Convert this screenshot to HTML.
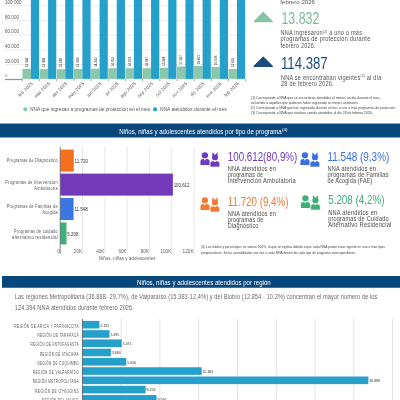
<!DOCTYPE html>
<html><head><meta charset="utf-8"><style>
html,body{margin:0;padding:0;background:#fff;width:400px;height:400px;overflow:hidden}
svg{display:block;font-family:"Liberation Sans", sans-serif;will-change:transform}
</style></head><body>
<svg width="400" height="400" viewBox="0 0 400 400">
<rect width="400" height="400" fill="#fff"/>
<line x1="5" y1="64.5" x2="246" y2="64.5" stroke="#dedede" stroke-width="0.6"/>
<line x1="5" y1="49.800000000000004" x2="246" y2="49.800000000000004" stroke="#dedede" stroke-width="0.6"/>
<line x1="5" y1="35.10000000000001" x2="246" y2="35.10000000000001" stroke="#dedede" stroke-width="0.6"/>
<line x1="5" y1="20.400000000000006" x2="246" y2="20.400000000000006" stroke="#dedede" stroke-width="0.6"/>
<line x1="5" y1="5.700000000000003" x2="246" y2="5.700000000000003" stroke="#dedede" stroke-width="0.6"/>
<text x="5" y="76.7" font-size="4.3" fill="#777">0</text>
<text x="5" y="62.6" font-size="4.9" fill="#555" textLength="14" lengthAdjust="spacingAndGlyphs">20.000</text>
<text x="5" y="47.900000000000006" font-size="4.9" fill="#555" textLength="14" lengthAdjust="spacingAndGlyphs">40.000</text>
<text x="5" y="33.20000000000001" font-size="4.9" fill="#555" textLength="14" lengthAdjust="spacingAndGlyphs">60.000</text>
<text x="5" y="18.500000000000007" font-size="4.9" fill="#555" textLength="14" lengthAdjust="spacingAndGlyphs">80.000</text>
<text x="5" y="3.800000000000003" font-size="4.9" fill="#555" textLength="16.5" lengthAdjust="spacingAndGlyphs">100.000</text>
<rect x="22.4" y="68.95" width="8.5" height="10.25" fill="#8dc7ab"/>
<rect x="30.9" y="-5" width="8.2" height="84.2" fill="#24a0ca"/>
<text transform="translate(27.90,67.15) rotate(-90)" font-size="3.7" fill="#222" textLength="9.5" lengthAdjust="spacingAndGlyphs">13.944</text>
<text transform="translate(33.10,83.9) rotate(-45)" font-size="4.6" fill="#555" text-anchor="end" letter-spacing="0.1">feb 2025</text>
<rect x="39.57" y="68.98" width="8.5" height="10.22" fill="#8dc7ab"/>
<rect x="48.07" y="-5" width="8.2" height="84.2" fill="#24a0ca"/>
<text transform="translate(45.07,67.18) rotate(-90)" font-size="3.7" fill="#222" textLength="9.5" lengthAdjust="spacingAndGlyphs">13.908</text>
<text transform="translate(50.27,83.9) rotate(-45)" font-size="4.6" fill="#555" text-anchor="end" letter-spacing="0.1">mar 2025</text>
<rect x="56.74" y="69.21" width="8.5" height="9.99" fill="#8dc7ab"/>
<rect x="65.24" y="-5" width="8.2" height="84.2" fill="#24a0ca"/>
<text transform="translate(62.24,67.41) rotate(-90)" font-size="3.7" fill="#222" textLength="9.5" lengthAdjust="spacingAndGlyphs">13.586</text>
<text transform="translate(67.44,83.9) rotate(-45)" font-size="4.6" fill="#555" text-anchor="end" letter-spacing="0.1">abr 2025</text>
<rect x="73.91" y="68.92" width="8.5" height="10.28" fill="#8dc7ab"/>
<rect x="82.41" y="-5" width="8.2" height="84.2" fill="#24a0ca"/>
<text transform="translate(79.41,67.12) rotate(-90)" font-size="3.7" fill="#222" textLength="9.5" lengthAdjust="spacingAndGlyphs">13.985</text>
<text transform="translate(84.61,83.9) rotate(-45)" font-size="4.6" fill="#555" text-anchor="end" letter-spacing="0.1">may 2025</text>
<rect x="91.08" y="68.66" width="8.5" height="10.54" fill="#8dc7ab"/>
<rect x="99.58" y="-5" width="8.2" height="84.2" fill="#24a0ca"/>
<text transform="translate(96.58,66.86) rotate(-90)" font-size="3.7" fill="#222" textLength="9.5" lengthAdjust="spacingAndGlyphs">14.342</text>
<text transform="translate(101.78,83.9) rotate(-45)" font-size="4.6" fill="#555" text-anchor="end" letter-spacing="0.1">jun 2025</text>
<rect x="108.25" y="68.24" width="8.5" height="10.96" fill="#8dc7ab"/>
<rect x="116.75" y="-5" width="8.2" height="84.2" fill="#24a0ca"/>
<text transform="translate(113.75,66.44) rotate(-90)" font-size="3.7" fill="#222" textLength="9.5" lengthAdjust="spacingAndGlyphs">14.913</text>
<text transform="translate(118.95,83.9) rotate(-45)" font-size="4.6" fill="#555" text-anchor="end" letter-spacing="0.1">jul 2025</text>
<rect x="125.42" y="68.19" width="8.5" height="11.01" fill="#8dc7ab"/>
<rect x="133.92" y="-5" width="8.2" height="84.2" fill="#24a0ca"/>
<text transform="translate(130.92,66.39) rotate(-90)" font-size="3.7" fill="#222" textLength="9.5" lengthAdjust="spacingAndGlyphs">14.974</text>
<text transform="translate(136.12,83.9) rotate(-45)" font-size="4.6" fill="#555" text-anchor="end" letter-spacing="0.1">ago 2025</text>
<rect x="142.59" y="68.21" width="8.5" height="10.99" fill="#8dc7ab"/>
<rect x="151.09" y="-5" width="8.2" height="84.2" fill="#24a0ca"/>
<text transform="translate(148.09,66.41) rotate(-90)" font-size="3.7" fill="#222" textLength="9.5" lengthAdjust="spacingAndGlyphs">14.947</text>
<text transform="translate(153.29,83.9) rotate(-45)" font-size="4.6" fill="#555" text-anchor="end" letter-spacing="0.1">sep 2025</text>
<rect x="159.76" y="67.8" width="8.5" height="11.4" fill="#8dc7ab"/>
<rect x="168.26" y="-5" width="8.2" height="84.2" fill="#24a0ca"/>
<text transform="translate(165.26,66.00) rotate(-90)" font-size="3.7" fill="#222" textLength="9.5" lengthAdjust="spacingAndGlyphs">15.504</text>
<text transform="translate(170.46,83.9) rotate(-45)" font-size="4.6" fill="#555" text-anchor="end" letter-spacing="0.1">oct 2025</text>
<rect x="176.93" y="66.44" width="8.5" height="12.76" fill="#8dc7ab"/>
<rect x="185.43" y="-5" width="8.2" height="84.2" fill="#24a0ca"/>
<text transform="translate(182.43,64.64) rotate(-90)" font-size="3.7" fill="#222" textLength="9.5" lengthAdjust="spacingAndGlyphs">17.367</text>
<text transform="translate(187.63,83.9) rotate(-45)" font-size="4.6" fill="#555" text-anchor="end" letter-spacing="0.1">nov 2025</text>
<rect x="194.1" y="65.95" width="8.5" height="13.25" fill="#8dc7ab"/>
<rect x="202.6" y="-5" width="8.2" height="84.2" fill="#24a0ca"/>
<text transform="translate(199.60,64.15) rotate(-90)" font-size="3.7" fill="#222" textLength="9.5" lengthAdjust="spacingAndGlyphs">18.027</text>
<text transform="translate(204.80,83.9) rotate(-45)" font-size="4.6" fill="#555" text-anchor="end" letter-spacing="0.1">dic 2025</text>
<rect x="211.27" y="66.93" width="8.5" height="12.27" fill="#8dc7ab"/>
<rect x="219.77" y="-5" width="8.2" height="84.2" fill="#24a0ca"/>
<text transform="translate(216.77,65.13) rotate(-90)" font-size="3.7" fill="#222" textLength="9.5" lengthAdjust="spacingAndGlyphs">16.696</text>
<text transform="translate(221.97,83.9) rotate(-45)" font-size="4.6" fill="#555" text-anchor="end" letter-spacing="0.1">ene 2026</text>
<rect x="228.44" y="69.03" width="8.5" height="10.17" fill="#8dc7ab"/>
<rect x="236.94" y="-5" width="8.2" height="84.2" fill="#24a0ca"/>
<text transform="translate(233.94,67.23) rotate(-90)" font-size="3.7" fill="#222" textLength="9.5" lengthAdjust="spacingAndGlyphs">13.832</text>
<text transform="translate(239.14,83.9) rotate(-45)" font-size="4.6" fill="#555" text-anchor="end" letter-spacing="0.1">feb 2026</text>
<line x1="5" y1="79.5" x2="22.4" y2="79.5" stroke="#8a97a2" stroke-width="1.3"/>
<line x1="22.4" y1="79.5" x2="246" y2="79.5" stroke="#fff" stroke-opacity="0.5" stroke-width="1.3"/>
<line x1="22.4" y1="79.2" x2="22.4" y2="81.2" stroke="#666" stroke-width="0.6"/>
<line x1="39.57" y1="79.2" x2="39.57" y2="81.2" stroke="#666" stroke-width="0.6"/>
<line x1="56.74" y1="79.2" x2="56.74" y2="81.2" stroke="#666" stroke-width="0.6"/>
<line x1="73.91" y1="79.2" x2="73.91" y2="81.2" stroke="#666" stroke-width="0.6"/>
<line x1="91.08" y1="79.2" x2="91.08" y2="81.2" stroke="#666" stroke-width="0.6"/>
<line x1="108.25" y1="79.2" x2="108.25" y2="81.2" stroke="#666" stroke-width="0.6"/>
<line x1="125.42" y1="79.2" x2="125.42" y2="81.2" stroke="#666" stroke-width="0.6"/>
<line x1="142.59" y1="79.2" x2="142.59" y2="81.2" stroke="#666" stroke-width="0.6"/>
<line x1="159.76" y1="79.2" x2="159.76" y2="81.2" stroke="#666" stroke-width="0.6"/>
<line x1="176.93" y1="79.2" x2="176.93" y2="81.2" stroke="#666" stroke-width="0.6"/>
<line x1="194.1" y1="79.2" x2="194.1" y2="81.2" stroke="#666" stroke-width="0.6"/>
<line x1="211.27" y1="79.2" x2="211.27" y2="81.2" stroke="#666" stroke-width="0.6"/>
<line x1="228.44" y1="79.2" x2="228.44" y2="81.2" stroke="#666" stroke-width="0.6"/>
<line x1="245.61" y1="79.2" x2="245.61" y2="81.2" stroke="#666" stroke-width="0.6"/>
<circle cx="25.2" cy="109.3" r="2.1" fill="#8dc7ab"/>
<text x="30" y="110.9" font-size="5.8" fill="#555" textLength="120.2" lengthAdjust="spacingAndGlyphs">NNA que ingresan a programas de protección en el mes</text>
<circle cx="155.1" cy="109.3" r="2.1" fill="#24a0ca"/>
<text x="160" y="110.9" font-size="5.8" fill="#555" textLength="66.6" lengthAdjust="spacingAndGlyphs">NNA atendidos durante el mes</text>
<text x="280.3" y="3.7" font-size="6.2" fill="#555" textLength="34.7" lengthAdjust="spacingAndGlyphs">febrero 2026</text>
<path d="M263.2 12.5 L254.2 21.7 L272.3 21.7 Z" fill="#88c2a5" stroke="#88c2a5" stroke-width="1.3" stroke-linejoin="round"/>
<text x="281.5" y="23.6" font-size="16.3" fill="#7db99c" textLength="37.8" lengthAdjust="spacingAndGlyphs">13.832</text>
<text x="280.5" y="35.3" font-size="6.6" fill="#555" letter-spacing="0.25" textLength="81.7" lengthAdjust="spacingAndGlyphs">NNA ingresaron<tspan font-size="3.8" dy="-2.4">(2)</tspan><tspan dy="2.4"> a uno o más</tspan></text>
<text x="280.5" y="41.4" font-size="6.6" fill="#555" letter-spacing="0.25" textLength="90" lengthAdjust="spacingAndGlyphs">programas de protección durante</text>
<text x="280.5" y="47.5" font-size="6.6" fill="#555" letter-spacing="0.25" textLength="35.2" lengthAdjust="spacingAndGlyphs">febrero 2026.</text>
<path d="M263.2 57.2 L254.2 66.3 L272.3 66.3 Z" fill="#1b4b7a" stroke="#1b4b7a" stroke-width="1.3" stroke-linejoin="round"/>
<text x="281.0" y="68.9" font-size="17.2" fill="#1b4b7a" textLength="46.7" lengthAdjust="spacingAndGlyphs">114.387</text>
<text x="281" y="79.5" font-size="6.6" fill="#555" letter-spacing="0.25" textLength="100.6" lengthAdjust="spacingAndGlyphs">NNA se encontraban vigentes<tspan font-size="3.8" dy="-2.4">(3)</tspan><tspan dy="2.4"> al día</tspan></text>
<text x="281" y="85.9" font-size="6.6" fill="#555" letter-spacing="0.25" textLength="52.8" lengthAdjust="spacingAndGlyphs">28 de febrero 2026.</text>
<text x="251" y="99.0" font-size="3.7" fill="#444" textLength="129.5" lengthAdjust="spacingAndGlyphs">(1) Corresponde a NNA que se encuentran atendidos al menos un día durante el mes,</text>
<text x="251" y="103.85" font-size="3.7" fill="#444" textLength="107.75" lengthAdjust="spacingAndGlyphs">incluendo a aquellos que pudieron haber ingresado en meses anteriores.</text>
<text x="251" y="108.7" font-size="3.7" fill="#444" textLength="145.25" lengthAdjust="spacingAndGlyphs">(2) Corresponde a NNA que han ingresado durante el mes a uno o más programas de protección.</text>
<text x="251" y="113.55" font-size="3.7" fill="#444" textLength="121.5" lengthAdjust="spacingAndGlyphs">(3) Corresponde a NNA que estaban siendo atendidos al día 28 de febrero 2026.</text>
<rect x="0" y="123.5" width="400" height="14" fill="#08477c"/>
<text x="119.2" y="134.4" font-size="7.6" fill="#fff" textLength="162.5" lengthAdjust="spacingAndGlyphs">Niños, niñas y adolescentes atendidos por tipo de programa</text>
<text x="282" y="130.8" font-size="3.6" fill="#fff" textLength="5.5" lengthAdjust="spacingAndGlyphs">(4)</text>
<line x1="82.5" y1="147" x2="82.5" y2="254" stroke="#d6d6d6" stroke-width="0.6"/>
<line x1="104.8" y1="147" x2="104.8" y2="254" stroke="#d6d6d6" stroke-width="0.6"/>
<line x1="127.1" y1="147" x2="127.1" y2="254" stroke="#d6d6d6" stroke-width="0.6"/>
<line x1="149.4" y1="147" x2="149.4" y2="254" stroke="#d6d6d6" stroke-width="0.6"/>
<line x1="171.7" y1="147" x2="171.7" y2="254" stroke="#d6d6d6" stroke-width="0.6"/>
<line x1="194.0" y1="147" x2="194.0" y2="254" stroke="#d6d6d6" stroke-width="0.6"/>
<rect x="60.2" y="149.6" width="13.57" height="22" fill="#f66f1f"/>
<text x="74.57" y="162.9" font-size="4.6" fill="#333" textLength="13.5" lengthAdjust="spacingAndGlyphs">11.720</text>
<rect x="60.2" y="173.6" width="112.68" height="22" fill="#7239bb"/>
<text x="173.68" y="186.9" font-size="4.6" fill="#333" textLength="15.75" lengthAdjust="spacingAndGlyphs">100.612</text>
<rect x="60.2" y="198.0" width="13.38" height="22" fill="#3a76e4"/>
<text x="74.38" y="211.3" font-size="4.6" fill="#333" textLength="13.5" lengthAdjust="spacingAndGlyphs">11.548</text>
<rect x="60.2" y="222.4" width="6.31" height="22" fill="#3fb07a"/>
<text x="67.31" y="235.70000000000002" font-size="4.6" fill="#333" textLength="11.25" lengthAdjust="spacingAndGlyphs">5.208</text>
<line x1="60.2" y1="147" x2="60.2" y2="254" stroke="#666" stroke-width="0.8"/>
<text x="59.8" y="253.3" font-size="4.8" fill="#666" textLength="2.6" lengthAdjust="spacingAndGlyphs" text-anchor="end">0</text>
<text x="82.1" y="253.3" font-size="4.8" fill="#666" textLength="8.25" lengthAdjust="spacingAndGlyphs" text-anchor="end">20K</text>
<text x="104.4" y="253.3" font-size="4.8" fill="#666" textLength="8.25" lengthAdjust="spacingAndGlyphs" text-anchor="end">40K</text>
<text x="126.7" y="253.3" font-size="4.8" fill="#666" textLength="8.25" lengthAdjust="spacingAndGlyphs" text-anchor="end">60K</text>
<text x="149.0" y="253.3" font-size="4.8" fill="#666" textLength="8.25" lengthAdjust="spacingAndGlyphs" text-anchor="end">80K</text>
<text x="171.3" y="253.3" font-size="4.8" fill="#666" textLength="11.0" lengthAdjust="spacingAndGlyphs" text-anchor="end">100K</text>
<text x="193.6" y="253.3" font-size="4.8" fill="#666" textLength="11.0" lengthAdjust="spacingAndGlyphs" text-anchor="end">120K</text>
<text x="99" y="260.4" font-size="4.8" fill="#555" letter-spacing="0.2" textLength="56.6" lengthAdjust="spacingAndGlyphs">Niños, niñas y adolescentes</text>
<text x="57.9" y="162.4" font-size="4.5" fill="#555" letter-spacing="0.3" textLength="51.2" lengthAdjust="spacingAndGlyphs" text-anchor="end">Programas de Diagnóstico</text>
<text x="57.9" y="183.5" font-size="4.5" fill="#555" letter-spacing="0.3" textLength="52.6" lengthAdjust="spacingAndGlyphs" text-anchor="end">Programas de Intervención</text>
<text x="57.9" y="189.6" font-size="4.5" fill="#555" letter-spacing="0.3" textLength="23.6" lengthAdjust="spacingAndGlyphs" text-anchor="end">Ambulatoria</text>
<text x="57.9" y="208.2" font-size="4.5" fill="#555" letter-spacing="0.3" textLength="51.2" lengthAdjust="spacingAndGlyphs" text-anchor="end">Programas de Familias de</text>
<text x="57.9" y="214.3" font-size="4.5" fill="#555" letter-spacing="0.3" textLength="15.6" lengthAdjust="spacingAndGlyphs" text-anchor="end">Acogida</text>
<text x="57.9" y="232.8" font-size="4.5" fill="#555" letter-spacing="0.3" textLength="43.8" lengthAdjust="spacingAndGlyphs" text-anchor="end">Programas de cuidado</text>
<text x="57.9" y="238.6" font-size="4.5" fill="#555" letter-spacing="0.3" textLength="45.8" lengthAdjust="spacingAndGlyphs" text-anchor="end">alternativo residencial</text>
<g transform="translate(200,152)" fill="#6e3ac0"><circle cx="4.9" cy="3.3" r="3.15"/><path d="M0.4 13 L0.4 9.6 Q0.4 7 3.2 7 L6.6 7 Q9.6 7 9.6 9.6 L9.6 13 Z"/><path d="M3.7 6.8 L4.9 8.7 L6.1 6.8 Z" fill="#fff"/><circle cx="15.0" cy="5.5" r="3.05"/><path d="M12.3 4 L12.5 0.3 L14.6 2.6 Z"/><path d="M17.7 4 L17.5 0.3 L15.4 2.6 Z"/><path d="M10.1 15 L10.1 11.6 Q10.1 8.9 12.9 8.9 L16.9 8.9 Q19.7 8.9 19.7 11.6 L19.7 15 Z" stroke="#fff" stroke-width="0.6"/><path d="M13.8 8.7 L15.0 10.6 L16.2 8.7 Z" fill="#fff"/></g>
<text x="227.8" y="161" font-size="12.2" fill="#6e3ac0" textLength="69.5" lengthAdjust="spacingAndGlyphs">100.612(80,9%)</text>
<text x="227.8" y="171.2" font-size="6.8" fill="#4a4a4a" letter-spacing="0.25" textLength="48.3" lengthAdjust="spacingAndGlyphs">NNA atendidos en</text>
<text x="227.8" y="177.25" font-size="6.8" fill="#4a4a4a" letter-spacing="0.25" textLength="35.4" lengthAdjust="spacingAndGlyphs">programas de</text>
<text x="227.8" y="183.3" font-size="6.8" fill="#4a4a4a" letter-spacing="0.25" textLength="68.2" lengthAdjust="spacingAndGlyphs">Intervención Ambulatoria</text>
<g transform="translate(300,152)" fill="#3a6fe2"><circle cx="4.9" cy="3.3" r="3.15"/><path d="M0.4 13 L0.4 9.6 Q0.4 7 3.2 7 L6.6 7 Q9.6 7 9.6 9.6 L9.6 13 Z"/><path d="M3.7 6.8 L4.9 8.7 L6.1 6.8 Z" fill="#fff"/><circle cx="15.0" cy="5.5" r="3.05"/><path d="M12.3 4 L12.5 0.3 L14.6 2.6 Z"/><path d="M17.7 4 L17.5 0.3 L15.4 2.6 Z"/><path d="M10.1 15 L10.1 11.6 Q10.1 8.9 12.9 8.9 L16.9 8.9 Q19.7 8.9 19.7 11.6 L19.7 15 Z" stroke="#fff" stroke-width="0.6"/><path d="M13.8 8.7 L15.0 10.6 L16.2 8.7 Z" fill="#fff"/></g>
<text x="327.5" y="161" font-size="12.2" fill="#3a6fe2" textLength="61.8" lengthAdjust="spacingAndGlyphs">11.548 (9,3%)</text>
<text x="327.5" y="171.3" font-size="6.8" fill="#4a4a4a" letter-spacing="0.25" textLength="48.6" lengthAdjust="spacingAndGlyphs">NNA atendidos en</text>
<text x="327.5" y="177.35" font-size="6.8" fill="#4a4a4a" letter-spacing="0.25" textLength="61.2" lengthAdjust="spacingAndGlyphs">programas de Familias</text>
<text x="327.5" y="183.4" font-size="6.8" fill="#4a4a4a" letter-spacing="0.25" textLength="45.1" lengthAdjust="spacingAndGlyphs">de Acogida (FAE)</text>
<g transform="translate(200,197)" fill="#f07a36"><circle cx="4.9" cy="3.3" r="3.15"/><path d="M0.4 13 L0.4 9.6 Q0.4 7 3.2 7 L6.6 7 Q9.6 7 9.6 9.6 L9.6 13 Z"/><path d="M3.7 6.8 L4.9 8.7 L6.1 6.8 Z" fill="#fff"/><circle cx="15.0" cy="5.5" r="3.05"/><path d="M12.3 4 L12.5 0.3 L14.6 2.6 Z"/><path d="M17.7 4 L17.5 0.3 L15.4 2.6 Z"/><path d="M10.1 15 L10.1 11.6 Q10.1 8.9 12.9 8.9 L16.9 8.9 Q19.7 8.9 19.7 11.6 L19.7 15 Z" stroke="#fff" stroke-width="0.6"/><path d="M13.8 8.7 L15.0 10.6 L16.2 8.7 Z" fill="#fff"/></g>
<text x="227.8" y="206" font-size="12.2" fill="#f07a36" textLength="60.6" lengthAdjust="spacingAndGlyphs">11.720 (9,4%)</text>
<text x="227.8" y="216.3" font-size="6.8" fill="#4a4a4a" letter-spacing="0.25" textLength="48.3" lengthAdjust="spacingAndGlyphs">NNA atendidos en</text>
<text x="227.8" y="222.35" font-size="6.8" fill="#4a4a4a" letter-spacing="0.25" textLength="35.6" lengthAdjust="spacingAndGlyphs">programas de</text>
<text x="227.8" y="228.4" font-size="6.8" fill="#4a4a4a" letter-spacing="0.25" textLength="30.8" lengthAdjust="spacingAndGlyphs">Diagnóstico</text>
<g transform="translate(300.5,195)" fill="#3fae78"><circle cx="4.9" cy="3.3" r="3.15"/><path d="M0.4 13 L0.4 9.6 Q0.4 7 3.2 7 L6.6 7 Q9.6 7 9.6 9.6 L9.6 13 Z"/><path d="M3.7 6.8 L4.9 8.7 L6.1 6.8 Z" fill="#fff"/><circle cx="15.0" cy="5.5" r="3.05"/><path d="M12.3 4 L12.5 0.3 L14.6 2.6 Z"/><path d="M17.7 4 L17.5 0.3 L15.4 2.6 Z"/><path d="M10.1 15 L10.1 11.6 Q10.1 8.9 12.9 8.9 L16.9 8.9 Q19.7 8.9 19.7 11.6 L19.7 15 Z" stroke="#fff" stroke-width="0.6"/><path d="M13.8 8.7 L15.0 10.6 L16.2 8.7 Z" fill="#fff"/></g>
<text x="328.2" y="204" font-size="12.2" fill="#3fae78" textLength="56.3" lengthAdjust="spacingAndGlyphs">5.208 (4,2%)</text>
<text x="328.2" y="214.5" font-size="6.8" fill="#4a4a4a" letter-spacing="0.25" textLength="49.3" lengthAdjust="spacingAndGlyphs">NNA atendidos en</text>
<text x="328.2" y="220.55" font-size="6.8" fill="#4a4a4a" letter-spacing="0.25" textLength="60.6" lengthAdjust="spacingAndGlyphs">programas de Cuidado</text>
<text x="328.2" y="226.6" font-size="6.8" fill="#4a4a4a" letter-spacing="0.25" textLength="63.4" lengthAdjust="spacingAndGlyphs">Alternativo Residencial</text>
<text x="201" y="247.8" font-size="3.6" fill="#444" textLength="184" lengthAdjust="spacingAndGlyphs">(4) Los totales y porcentajes no suman 100%, lo que se explica debido a que cada NNA puede estar vigente en uno o más tipos</text>
<text x="201" y="254.0" font-size="3.6" fill="#444" textLength="155" lengthAdjust="spacingAndGlyphs">programáticos. Se ha contabilizado una vez a cada NNA dentro de cada tipo de programa correspondiente.</text>
<rect x="2" y="276" width="398" height="11.75" fill="#08477c"/>
<text x="137" y="284.5" font-size="7.2" fill="#fff" textLength="133.7" lengthAdjust="spacingAndGlyphs">Niños, niñas y adolescentes atendidos por región</text>
<text x="14.7" y="299.4" font-size="6.4" fill="#6a6a6a" letter-spacing="0.1" textLength="362.8" lengthAdjust="spacingAndGlyphs">Las regiones Metropolitana (36.888- 29,7%), de Valparaíso (15.383-12,4%) y del Biobío (12.854 - 10,3%) concentran el mayor número de los</text>
<text x="14.7" y="310.0" font-size="6.4" fill="#6a6a6a" letter-spacing="0.1" textLength="119.3" lengthAdjust="spacingAndGlyphs">124.394 NNA atendidos durante febrero 2026.</text>
<line x1="121.16" y1="319" x2="121.16" y2="400" stroke="#d6d6d6" stroke-width="0.7"/>
<line x1="159.92" y1="319" x2="159.92" y2="400" stroke="#d6d6d6" stroke-width="0.7"/>
<line x1="198.68" y1="319" x2="198.68" y2="400" stroke="#d6d6d6" stroke-width="0.7"/>
<line x1="237.44" y1="319" x2="237.44" y2="400" stroke="#d6d6d6" stroke-width="0.7"/>
<line x1="276.2" y1="319" x2="276.2" y2="400" stroke="#d6d6d6" stroke-width="0.7"/>
<line x1="314.96" y1="319" x2="314.96" y2="400" stroke="#d6d6d6" stroke-width="0.7"/>
<line x1="353.72" y1="319" x2="353.72" y2="400" stroke="#d6d6d6" stroke-width="0.7"/>
<line x1="392.48" y1="319" x2="392.48" y2="400" stroke="#d6d6d6" stroke-width="0.7"/>
<rect x="82.4" y="320.9" width="16.99" height="7.6" fill="#24a0ca"/>
<text x="100.39" y="326.6" font-size="3.5" fill="#333" textLength="8.8" lengthAdjust="spacingAndGlyphs">2.192</text>
<text x="79.0" y="327.8" font-size="4.5" fill="#555" letter-spacing="0.55" textLength="64.7" lengthAdjust="spacingAndGlyphs" text-anchor="end">REGIÓN DE ARICA Y PARINACOTA</text>
<rect x="82.4" y="330.17" width="27.09" height="7.6" fill="#24a0ca"/>
<text x="110.49" y="335.87" font-size="3.5" fill="#333" textLength="8.8" lengthAdjust="spacingAndGlyphs">3.495</text>
<text x="79.0" y="337.07" font-size="4.5" fill="#555" letter-spacing="0.55" textLength="41.6" lengthAdjust="spacingAndGlyphs" text-anchor="end">REGIÓN DE TARAPACÁ</text>
<rect x="82.4" y="339.44" width="39.31" height="7.6" fill="#24a0ca"/>
<text x="122.71" y="345.14" font-size="3.5" fill="#333" textLength="8.8" lengthAdjust="spacingAndGlyphs">5.071</text>
<text x="79.0" y="346.34" font-size="4.5" fill="#555" letter-spacing="0.55" textLength="48.5" lengthAdjust="spacingAndGlyphs" text-anchor="end">REGIÓN DE ANTOFAGASTA</text>
<rect x="82.4" y="348.71" width="28.53" height="7.6" fill="#24a0ca"/>
<text x="111.93" y="354.41" font-size="3.5" fill="#333" textLength="8.8" lengthAdjust="spacingAndGlyphs">3.680</text>
<text x="79.0" y="355.61" font-size="4.5" fill="#555" letter-spacing="0.55" textLength="39.3" lengthAdjust="spacingAndGlyphs" text-anchor="end">REGIÓN DE ATACAMA</text>
<rect x="82.4" y="357.98" width="43.85" height="7.6" fill="#24a0ca"/>
<text x="127.25" y="363.68" font-size="3.5" fill="#333" textLength="8.8" lengthAdjust="spacingAndGlyphs">5.656</text>
<text x="79.0" y="364.88" font-size="4.5" fill="#555" letter-spacing="0.55" textLength="41.6" lengthAdjust="spacingAndGlyphs" text-anchor="end">REGIÓN DE COQUIMBO</text>
<rect x="82.4" y="367.25" width="119.25" height="7.6" fill="#24a0ca"/>
<text x="202.65" y="372.95" font-size="3.5" fill="#333" textLength="10.5" lengthAdjust="spacingAndGlyphs">15.383</text>
<text x="79.0" y="374.15" font-size="4.5" fill="#555" letter-spacing="0.55" textLength="46.2" lengthAdjust="spacingAndGlyphs" text-anchor="end">REGIÓN DE VALPARAÍSO</text>
<rect x="82.4" y="376.52" width="285.96" height="7.6" fill="#24a0ca"/>
<text x="369.36" y="382.22" font-size="3.5" fill="#333" textLength="10.5" lengthAdjust="spacingAndGlyphs">36.888</text>
<text x="79.0" y="383.42" font-size="4.5" fill="#555" letter-spacing="0.55" textLength="46.2" lengthAdjust="spacingAndGlyphs" text-anchor="end">REGIÓN METROPOLITANA</text>
<rect x="82.4" y="385.79" width="63.24" height="7.6" fill="#24a0ca"/>
<text x="146.64" y="391.49" font-size="3.5" fill="#333" textLength="8.8" lengthAdjust="spacingAndGlyphs">8.158</text>
<text x="79.0" y="392.69" font-size="4.5" fill="#555" letter-spacing="0.55" textLength="43.9" lengthAdjust="spacingAndGlyphs" text-anchor="end">REGIÓN DE O'HIGGINS</text>
<rect x="82.4" y="395.06" width="74.16" height="7.6" fill="#24a0ca"/>
<text x="157.56" y="400.76" font-size="3.5" fill="#333" textLength="8.8" lengthAdjust="spacingAndGlyphs">9.566</text>
<text x="79.0" y="401.96" font-size="4.5" fill="#555" letter-spacing="0.55" textLength="37.0" lengthAdjust="spacingAndGlyphs" text-anchor="end">REGIÓN DEL MAULE</text>
<rect x="82.4" y="404.33" width="31.01" height="7.6" fill="#24a0ca"/>
<text x="114.41" y="410.03" font-size="3.5" fill="#333" textLength="8.8" lengthAdjust="spacingAndGlyphs">4.000</text>
<text x="79.0" y="411.23" font-size="4.5" fill="#555" letter-spacing="0.55" textLength="34.6" lengthAdjust="spacingAndGlyphs" text-anchor="end">REGIÓN DE ÑUBLE</text>
<line x1="82.4" y1="319" x2="82.4" y2="400" stroke="#555" stroke-width="0.8"/>
</svg>
</body></html>
